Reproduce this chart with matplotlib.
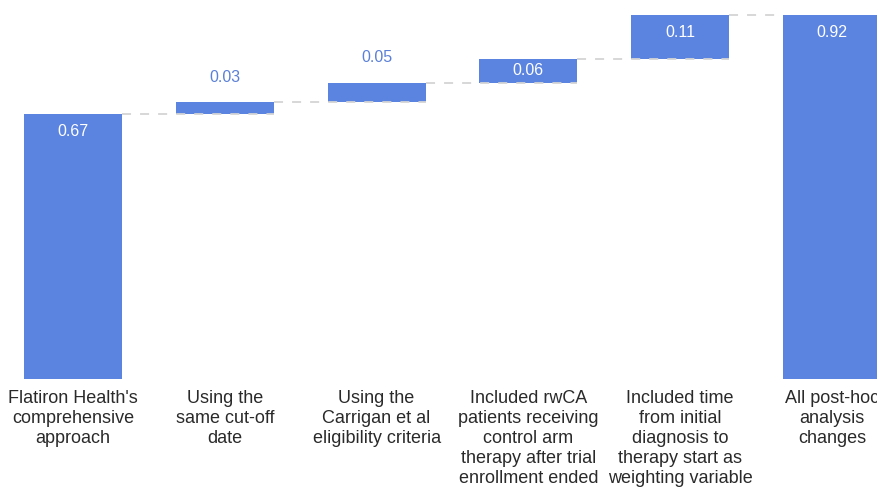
import numpy as np
import matplotlib.pyplot as plt

plt.rcParams["font.family"] = ["Liberation Sans", "DejaVu Sans"]

categories = [
    "Flatiron Health's\ncomprehensive\napproach",
    "Using the\nsame cut-off\ndate",
    "Using the\nCarrigan et al\neligibility criteria",
    "Included rwCA\npatients receiving\ncontrol arm\ntherapy after trial\nenrollment ended",
    "Included time\nfrom initial\ndiagnosis to\ntherapy start as\nweighting variable",
    "All post-hoc\nanalysis\nchanges",
]
start_value = 0.67
steps = [0.03, 0.05, 0.06, 0.11]
total_value = 0.92

bar_color = "#5b83e0"
label_blue = "#5b80d8"
width = 0.645

# bottoms and heights for the waterfall
heights = [start_value] + steps + [total_value]
bottoms = [0.0]
running = start_value
for s in steps:
    bottoms.append(running)
    running += s
bottoms.append(0.0)
tops = [b + h for b, h in zip(bottoms, heights)]

fig = plt.figure(figsize=(8.78, 4.88), dpi=100)
ax = fig.add_axes([0, 0, 1, 1])
x = np.arange(len(categories))

ax.bar(x, heights, bottom=bottoms, width=width, color=bar_color, zorder=2)

# dashed connectors at each running level
for i in range(len(x) - 1):
    level = tops[i]
    end = x[i + 1] + width / 2 if i + 1 < len(x) - 1 else x[i + 1] - width / 2
    ax.plot([x[i] + width / 2, end], [level, level],
            color="#d4d4d4", lw=1.3, dashes=(5, 5), zorder=3)

px = 1 / 395  # one pixel in data units
for i, (b, h, t) in enumerate(zip(bottoms, heights, tops)):
    txt = f"{h:.2f}"
    if h < 0.055:
        ax.text(x[i], t + 25 * px, txt, ha="center", va="center",
                color=label_blue, fontsize=11.5, zorder=4)
    else:
        y = max(t - 17 * px, b + h / 2)
        ax.text(x[i], y, txt, ha="center", va="center",
                color="white", fontsize=11.5, zorder=4)

for i, lab in enumerate(categories):
    ax.text(x[i], -11 * px, lab, ha="center", va="top", fontsize=13,
            color="#2a2a2a", linespacing=1.24)

ax.set_xlim(-0.481, 5.303)
ax.set_ylim(-0.276, 0.959)
ax.axis("off")

fig.savefig("out.png", dpi=100)
